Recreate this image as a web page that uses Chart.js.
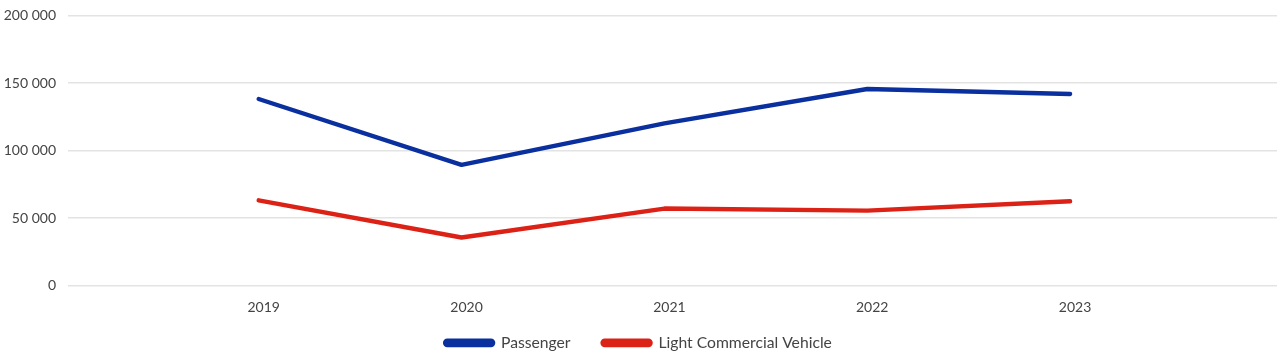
<!DOCTYPE html>
<html>
<head>
<meta charset="utf-8">
<script src="https://cdn.jsdelivr.net/npm/chart.js@4/dist/chart.umd.min.js"></script>
<style>
html,body{margin:0;padding:0;background:#fff;}
#wrap{width:1280px;height:358px;position:relative;}
</style>
</head>
<body>
<div id="wrap"><canvas id="c" width="1280" height="358"></canvas></div>
<script>
const years = [2019, 2020, 2021, 2022, 2023];
const passenger = [138200, 89500, 120200, 145600, 141900];
const lcv = [63200, 35700, 57100, 55600, 62500];
const yTicks = [0, 50000, 100000, 150000, 200000];
const seriesNames = ['Passenger', 'Light Commercial Vehicle'];
const seriesColors = ['#0A2F9E', '#DC2116'];

function fmt(v){ return String(v).replace(/\B(?=(\d{3})+(?!\d))/g, ' '); }

const legendFix = {
  id: 'legendFix',
  beforeLayout(chart) {
    const lg = chart.legend;
    if (lg && !lg._fixed) {
      const origFit = lg.fit.bind(lg);
      lg.fit = function() { origFit(); this.height = 42; };
      const origDraw = lg.draw.bind(lg);
      lg.draw = function() {
        const t = this.top;
        this.top = t - 13;
        origDraw();
        this.top = t;
      };
      lg._fixed = true;
    }
  }
};

const ctx = document.getElementById('c');
new Chart(ctx, {
  type: 'line',
  data: {
    datasets: [
      { label: seriesNames[0], data: years.map((y,i)=>({x:y, y:passenger[i]})),
        borderColor: seriesColors[0], backgroundColor: seriesColors[0] },
      { label: seriesNames[1], data: years.map((y,i)=>({x:y, y:lcv[i]})),
        borderColor: seriesColors[1], backgroundColor: seriesColors[1] }
    ]
  },
  plugins: [legendFix],
  options: {
    responsive: false,
    animation: false,
    layout: { padding: { top: 15.5, right: 3, left: 0, bottom: 0 } },
    elements: {
      line: { borderWidth: 4.4, tension: 0, borderCapStyle: 'round', borderJoinStyle: 'round' },
      point: { radius: 0, hoverRadius: 0 }
    },
    scales: {
      x: {
        type: 'linear',
        min: 2018.06,
        max: 2024.02,
        afterBuildTicks: (s) => { s.ticks = years.map(v => ({ value: v })); },
        afterFit: (s) => { s.height = 30.3; },
        grid: { display: false, drawTicks: false },
        border: { display: false },
        ticks: {
          padding: 13,
          labelOffset: 5,
          color: '#444',
          font: { family: 'Lato', size: 14 },
          callback: (v) => String(v)
        }
      },
      y: {
        min: 0,
        max: 200000,
        afterBuildTicks: (s) => { s.ticks = yTicks.map(v => ({ value: v })); },
        afterFit: (s) => { s.width = 68; s.paddingTop = 0; s.paddingBottom = 0; },
        grid: { color: '#e3e3e3', lineWidth: 1.5, drawTicks: false },
        border: { display: false },
        ticks: {
          padding: 12,
          color: '#444',
          font: { family: 'Lato', size: 14 },
          callback: (v) => fmt(v)
        }
      }
    },
    plugins: {
      tooltip: { enabled: false },
      legend: {
        position: 'bottom',
        labels: {
          boxWidth: 48,
          boxHeight: 4.4,
          useBorderRadius: true,
          borderRadius: 2.2,
          padding: 32,
          color: '#444',
          font: { family: 'Lato', size: 15.7 }
        }
      }
    }
  }
});
</script>
</body>
</html>
